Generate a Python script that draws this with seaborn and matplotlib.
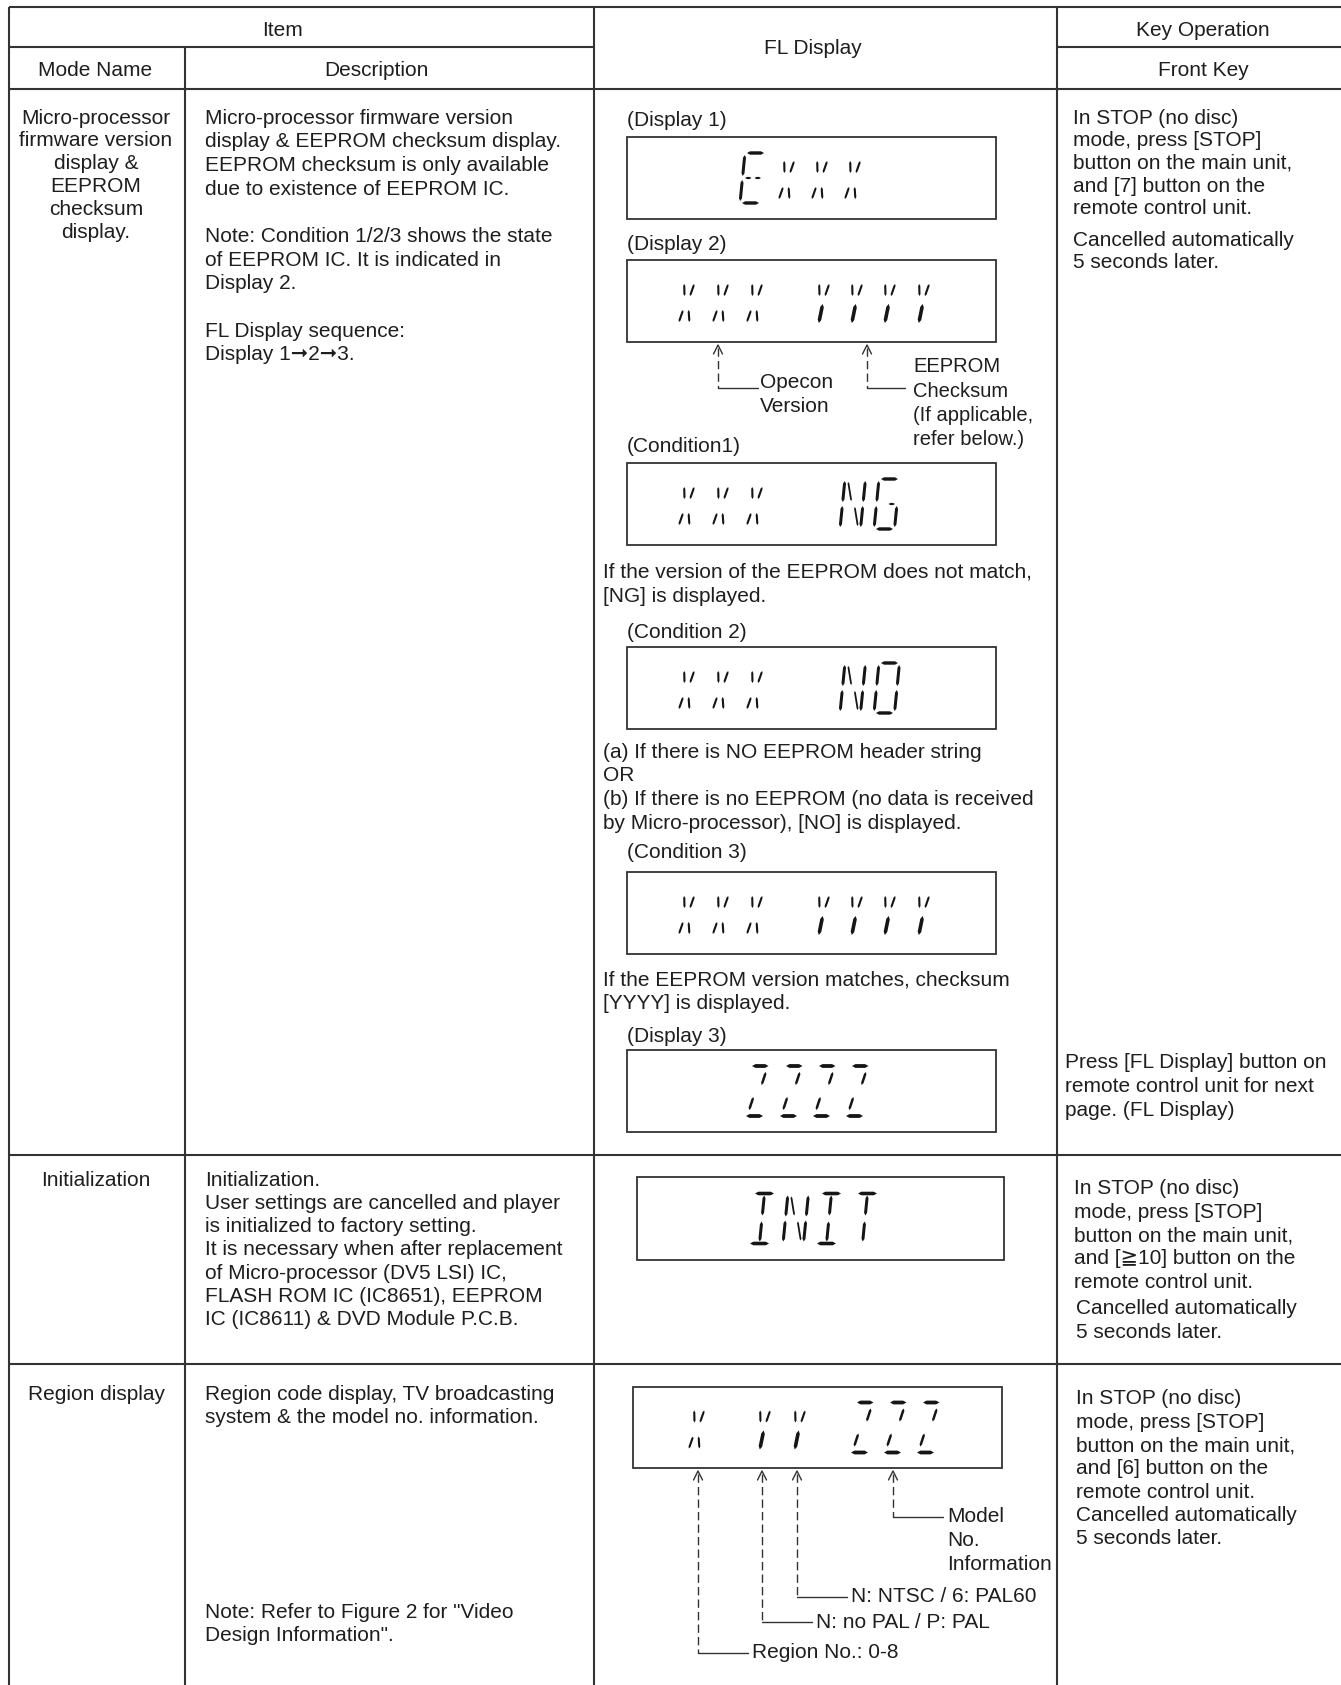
import matplotlib
matplotlib.use("Agg")
import matplotlib.pyplot as plt
import seaborn as sns
import numpy as np
from matplotlib.patches import Polygon, Rectangle

sns.set_theme(style="white")
plt.rcParams['font.family'] = ['Liberation Sans', 'DejaVu Sans']

# ---------------- content ----------------
header_top = ["Item", "FL Display", "Key Operation"]
header_sub = ["Mode Name", "Description", "Front Key"]

mode_names = [
    ["Micro-processor", "firmware version", "display &", "EEPROM", "checksum", "display."],
    ["Initialization"],
    ["Region display"],
]

desc_row1 = ["Micro-processor firmware version", "display & EEPROM checksum display.",
             "EEPROM checksum is only available", "due to existence of EEPROM IC.", "",
             "Note: Condition 1/2/3 shows the state", "of EEPROM IC. It is indicated in",
             "Display 2.", "", "FL Display sequence:", "Display 1\u279e2\u279e3."]
desc_row2 = ["Initialization.", "User settings are cancelled and player",
             "is initialized to factory setting.", "It is necessary when after replacement",
             "of Micro-processor (DV5 LSI) IC,", "FLASH ROM IC (IC8651), EEPROM",
             "IC (IC8611) & DVD Module P.C.B."]
desc_row3a = ["Region code display, TV broadcasting", "system & the model no. information."]
desc_row3b = ["Note: Refer to Figure 2 for \"Video", "Design Information\"."]

key_row1a = ["In STOP (no disc)", "mode, press [STOP]", "button on the main unit,",
             "and [7] button on the", "remote control unit.", "Cancelled automatically",
             "5 seconds later."]
key_row1b = ["Press [FL Display] button on", "remote control unit for next", "page. (FL Display)"]
key_row2 = ["In STOP (no disc)", "mode, press [STOP]", "button on the main unit,",
            "and [\u226710] button on the", "remote control unit.", "Cancelled automatically",
            "5 seconds later."]
key_row3 = ["In STOP (no disc)", "mode, press [STOP]", "button on the main unit,",
            "and [6] button on the", "remote control unit.", "Cancelled automatically",
            "5 seconds later."]

fl_labels = ["(Display 1)", "(Display 2)", "(Condition1)", "(Condition 2)", "(Condition 3)", "(Display 3)"]
fl_notes = [
    ["If the version of the EEPROM does not match,", "[NG] is displayed."],
    ["(a) If there is NO EEPROM header string", "OR",
     "(b) If there is no EEPROM (no data is received", "by Micro-processor), [NO] is displayed."],
    ["If the EEPROM version matches, checksum", "[YYYY] is displayed."],
]
disp_strings = ["EXXX", "XXX YYYY", "XXX NG", "XXX NO", "XXX YYYY", "ZZZZ", "INIT", "X YY ZZZ"]
leader_d2 = [["Opecon", "Version"], ["EEPROM", "Checksum", "(If applicable,", "refer below.)"]]
leader_region = ["Model\nNo.\nInformation", "N: NTSC / 6: PAL60", "N: no PAL / P: PAL", "Region No.: 0-8"]

# ---------------- canvas ----------------
W_PX, H_PX = 1341, 1685
fig = plt.figure(figsize=(W_PX / 100, H_PX / 100), dpi=100)
ax = fig.add_axes([0, 0, 1, 1])
ax.set_xlim(0, W_PX)
ax.set_ylim(H_PX, 0)
ax.axis('off')

FS = 15
TXT = '#1e1e1e'
LINE = '#333333'
SEG = '#151515'


def put(x, y, s, ha='left', fs=FS):
    if s:
        ax.text(x, y, s, ha=ha, va='center', fontsize=fs, color=TXT)


def lines(x, y0, rows, step, ha='left', fs=FS):
    for i, r in enumerate(rows):
        put(x, y0 + i * step, r, ha=ha, fs=fs)


def lines_at(x, ys, rows, ha='left', fs=FS):
    for y, r in zip(ys, rows):
        put(x, y, r, ha=ha, fs=fs)


def hline(y, x0, x1, lw=1.5):
    ax.plot([x0, x1], [y, y], color=LINE, lw=lw, solid_capstyle='butt')


def vline(x, y0, y1, lw=1.5):
    ax.plot([x, x], [y0, y1], color=LINE, lw=lw, solid_capstyle='butt')


# ---------------- table grid ----------------
XL, XC1, XC2, XC3, XR = 9, 185, 594, 1057, 1341
YT, YH1, YH2, YR1, YR2 = 7, 47, 89, 1155, 1364
hline(YT, XL, XR)
hline(YH1, XL, XC2)
hline(YH1, XC3, XR)
hline(YH2, XL, XR)
hline(YR1, XL, XR)
hline(YR2, XL, XR)
vline(XL, YT, H_PX)
vline(XC1, YH1, H_PX)
vline(XC2, YT, H_PX)
vline(XC3, YT, H_PX)

# headers
put(283, 30, header_top[0], ha='center')
put(813, 48, header_top[1], ha='center')
put(1203, 30, header_top[2], ha='center')
put(95, 71, header_sub[0], ha='center')
put(376, 71, header_sub[1], ha='center')
put(1203, 71, header_sub[2], ha='center')

# mode names
lines(96, 118, mode_names[0], 22.9, ha='center')
lines(96, 1180, mode_names[1], 24, ha='center')
lines(97, 1394, mode_names[2], 24, ha='center')

# descriptions
lines(205, 118, desc_row1, 23.7)
lines(205, 1180, desc_row2, 23.3)
lines(205, 1394, desc_row3a, 23.5)
lines(205, 1612, desc_row3b, 23.5)

# key operations
lines_at(1073, [118, 141, 163, 186, 208, 240, 263], key_row1a)
lines(1065, 1062, key_row1b, 24.5)
lines_at(1074, [1189, 1212, 1236, 1259, 1283], key_row2[:5])
lines_at(1076, [1309, 1332], key_row2[5:])
lines(1076, 1399, key_row3, 23.3)

# ---------------- FL display glyphs ----------------
SL = 0.1
SEGS = {
    'a': ((-8.5, 25), (8.5, 25), 3.4), 'd': ((-8.5, -25), (8.5, -25), 3.4),
    'f': ((-10.5, 23), (-10.5, 2), 3.0), 'e': ((-10.5, -2), (-10.5, -23), 3.0),
    'b': ((10, 23), (10, 2), 3.0), 'c': ((10, -2), (10, -23), 3.0),
    'g1': ((-8, 0), (-1.5, 0), 2.2), 'g2': ((1.5, 0), (8, 0), 2.2),
    'i': ((0, 23), (0, 3), 3.0), 'l': ((0, -3), (0, -23), 3.0),
    'h': ((-4.5, 17), (-3, 5), 2.1), 'j': ((5.5, 17), (2.5, 5), 2.1),
    'k': ((-6, -21), (-3, -9), 2.1), 'm': ((4.5, -21), (2.5, -9), 2.1),
    'ly': ((1, -3), (-1, -22), 3.6),
    'hn': ((-7, 22), (-2, 3), 1.8), 'mn': ((2, -3), (7, -22), 1.8),
    'az': ((-8.5, 25), (8, 25), 3.8), 'dz': ((-9.5, -25), (7.5, -25), 3.8),
    'jz': ((6, 19), (3, 6), 2.5), 'kz': ((-4, -6), (-7, -19), 2.5),
    'ai': ((-9.5, 25), (9.5, 25), 3.6), 'di': ((-9.5, -25), (9.5, -25), 3.6),
}
GLYPHS = {
    'X': ['h', 'j', 'k', 'm'], 'Y': ['h', 'j', 'ly'],
    'E': ['a', 'f', 'e', 'd', 'g1', 'g2'], 'N': ['f', 'e', 'hn', 'mn', 'b', 'c'],
    'G': ['a', 'f', 'e', 'd', 'c', 'g2'], 'O': ['a', 'b', 'c', 'd', 'e', 'f'],
    'Z': ['az', 'jz', 'kz', 'dz'], 'I': ['ai', 'i', 'l', 'di'], 'T': ['ai', 'i', 'l'],
}


def seg_poly(p0, p1, t):
    p0, p1 = np.array(p0, float), np.array(p1, float)
    d = p1 - p0
    L = np.hypot(*d)
    u = d / L
    n = np.array([-u[1], u[0]])
    tip = min(t * 0.9, L / 3)
    pts = [p0, p0 + u * tip + n * t / 2, p1 - u * tip + n * t / 2, p1,
           p1 - u * tip - n * t / 2, p0 + u * tip - n * t / 2]
    ax.add_patch(Polygon(pts, closed=True, fc=SEG, ec='none'))


def glyph(ch, cx, cy):
    for s in GLYPHS.get(ch, []):
        (u0, v0), (u1, v1), t = SEGS[s]
        p0 = (cx + u0 + SL * v0, cy - v0)
        p1 = (cx + u1 + SL * v1, cy - v1)
        seg_poly(p0, p1, t)


def display(box, text, xs):
    x0, y0, x1, y1 = box
    ax.add_patch(Rectangle((x0, y0), x1 - x0, y1 - y0, fill=False, ec=LINE, lw=1.3))
    cy = (y0 + y1) / 2
    chars = [c for c in text if c != ' ']
    for c, x in zip(chars, xs):
        glyph(c, x, cy)


FX0, FX1 = 627, 996
xs_x3 = [687, 721, 755]
xs_y4 = [822, 855, 888, 922]
display((FX0, 137, FX1, 219), disp_strings[0], [753, 787, 820, 853])
display((FX0, 260, FX1, 342), disp_strings[1], xs_x3 + xs_y4)
display((FX0, 463, FX1, 545), disp_strings[2], xs_x3 + [853, 887])
display((FX0, 647, FX1, 729), disp_strings[3], xs_x3 + [853, 887])
display((FX0, 872, FX1, 954), disp_strings[4], xs_x3 + xs_y4)
display((FX0, 1050, FX1, 1132), disp_strings[5], [758, 792, 825, 858])
display((637, 1177, 1004, 1260), disp_strings[6], [762, 796, 829, 865])
display((633, 1387, 1002, 1468), disp_strings[7], [697, 763, 798, 863, 896, 929])

# FL labels and notes
put(627, 120, fl_labels[0])
put(627, 245, fl_labels[1])
put(627, 447, fl_labels[2])
put(627, 632, fl_labels[3])
put(627, 853, fl_labels[4])
put(627, 1037, fl_labels[5])
lines(603, 572, fl_notes[0], 24)
lines(603, 752, fl_notes[1], 23.7)
lines(603, 980, fl_notes[2], 23.5)


# ---------------- leaders ----------------
def leader(x, ytip, yh, xend):
    ax.plot([x - 4.5, x, x + 4.5], [ytip + 9, ytip, ytip + 9], color=LINE, lw=1.0)
    ax.plot([x, x], [ytip + 3, yh], color=LINE, lw=1.0, linestyle=(0, (6, 3)))
    ax.plot([x, xend], [yh, yh], color=LINE, lw=1.0)


leader(718, 345, 388, 758)
leader(867, 345, 388, 905)
lines(760, 383, leader_d2[0], 23)
lines(913, 367, leader_d2[1], 24.2, fs=14.5)

reg_x = [893, 797, 762, 698]
reg_y = [1517, 1597, 1622, 1653]
reg_end = [943, 847, 812, 748]
for i, (x, y, xe) in enumerate(zip(reg_x, reg_y, reg_end)):
    leader(x, 1471, y, xe)
    rows = leader_region[i].split('\n')
    lines(xe + 4, y, rows, 24)

fig.savefig('out.png', dpi=100)
